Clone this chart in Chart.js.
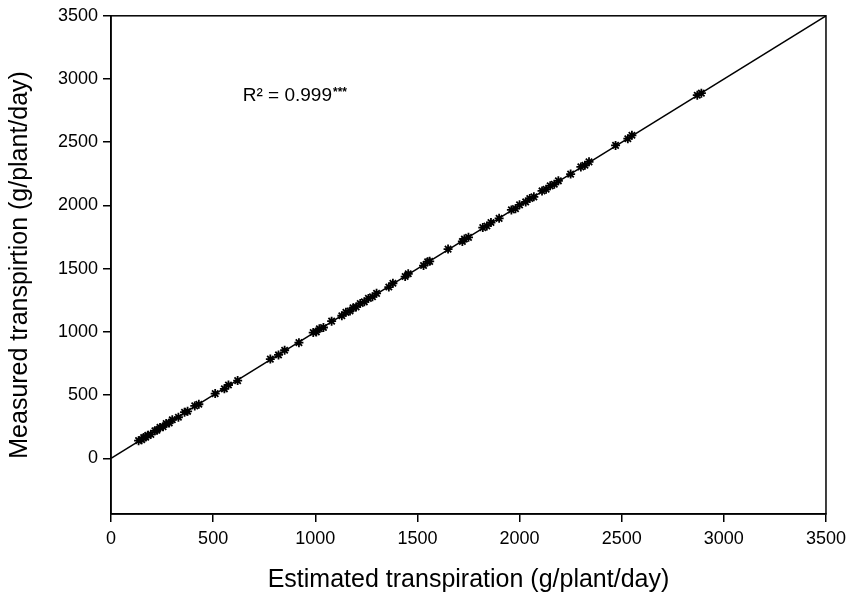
<!DOCTYPE html>
<html>
<head>
<meta charset="utf-8">
<script src="https://cdn.jsdelivr.net/npm/chart.js@4"></script>
<style>
  html, body { margin: 0; padding: 0; background: #fff; }
  #wrap { width: 852px; height: 602px; }
</style>
</head>
<body>
<div id="wrap"><canvas id="chart" width="852" height="602"></canvas></div>
<script>
// estimated vs measured transpiration (g/plant/day)
const estimated = [135, 150, 160, 170, 180, 195, 215, 225, 240, 255, 270, 285, 300, 330, 360, 375, 410, 430,
  510, 555, 575, 620, 780, 820, 850, 920, 990, 1005, 1020, 1040, 1080, 1130, 1150, 1170, 1185, 1200, 1220,
  1240, 1260, 1280, 1300, 1360, 1380, 1440, 1455, 1530, 1550, 1560, 1650, 1720, 1730, 1750, 1820, 1840,
  1860, 1900, 1960, 1980, 2000, 2030, 2050, 2070, 2110, 2130, 2150, 2170, 2190, 2250, 2300, 2320, 2340,
  2470, 2530, 2550, 2870, 2890];
const measured = [140, 148, 165, 168, 182, 190, 218, 222, 245, 250, 275, 280, 305, 325, 365, 372, 415, 428,
  512, 550, 580, 615, 785, 818, 855, 915, 995, 1000, 1025, 1035, 1085, 1128, 1155, 1165, 1190, 1198, 1225,
  1238, 1265, 1278, 1305, 1355, 1385, 1438, 1460, 1525, 1555, 1558, 1655, 1715, 1735, 1748, 1825, 1838,
  1865, 1898, 1965, 1975, 2005, 2028, 2055, 2068, 2115, 2128, 2155, 2168, 2195, 2248, 2305, 2318, 2345,
  2475, 2528, 2555, 2872, 2888];
const fitX = [0, 3500];
const fitY = [0, 3500];
const xTicks = [0, 500, 1000, 1500, 2000, 2500, 3000, 3500];
const yTicks = [0, 500, 1000, 1500, 2000, 2500, 3000, 3500];
const r2Label = 'R² = 0.999';
const r2Stars = '***';

const FONT = 'Liberation Sans, Arial, sans-serif';

const frame = {
  id: 'frame',
  afterDraw(chart) {
    const { ctx, chartArea: a } = chart;
    ctx.save();
    ctx.strokeStyle = '#000';
    ctx.lineWidth = 1.5;
    ctx.strokeRect(a.left, a.top, a.right - a.left, a.bottom - a.top);
    // R² note
    const x = chart.scales.x.getPixelForValue(645);
    const y = chart.scales.y.getPixelForValue(2870);
    ctx.fillStyle = '#000';
    ctx.font = '19px ' + FONT;
    ctx.textBaseline = 'middle';
    ctx.fillText(r2Label, x, y);
    const w = ctx.measureText(r2Label).width;
    ctx.font = 'bold 12px ' + FONT;
    ctx.fillText(r2Stars, x + w + 1, y - 3);
    ctx.restore();
  }
};

new Chart(document.getElementById('chart'), {
  type: 'scatter',
  data: {
    datasets: [{
      type: 'line',
      data: fitX.map((v, i) => ({ x: v, y: fitY[i] })),
      borderColor: '#000',
      borderWidth: 1.5,
      pointRadius: 0,
      fill: false
    }, {
      data: estimated.map((v, i) => ({ x: v, y: measured[i] })),
      pointStyle: 'star',
      pointRadius: 4.5,
      borderColor: '#000',
      backgroundColor: '#000',
      borderWidth: 1.8
    }]
  },
  options: {
    responsive: false,
    animation: false,
    layout: { padding: { left: 0, right: 26, top: 15, bottom: 0 } },
    plugins: { legend: { display: false }, tooltip: { enabled: false } },
    scales: {
      x: {
        type: 'linear',
        min: 0,
        max: 3500,
        afterFit(s) { s.height = 88; },
        afterBuildTicks(s) { s.ticks = xTicks.map(v => ({ value: v })); },
        grid: { drawOnChartArea: false, tickLength: 8, color: '#000', lineWidth: 1.5 },
        border: { color: '#000', width: 1.5 },
        ticks: { color: '#000', font: { family: FONT, size: 18 }, padding: 6, maxRotation: 0,
          callback: v => String(v) },
        title: { display: true, text: 'Estimated transpiration (g/plant/day)', color: '#000',
          font: { family: FONT, size: 25 }, padding: { top: 4, bottom: 7 } }
      },
      y: {
        type: 'linear',
        min: -440,
        max: 3500,
        afterFit(s) { s.width = 111; },
        afterBuildTicks(s) { s.ticks = yTicks.map(v => ({ value: v })); },
        grid: { drawOnChartArea: false, tickLength: 8, color: '#000', lineWidth: 1.5 },
        border: { color: '#000', width: 1.5 },
        ticks: { color: '#000', font: { family: FONT, size: 18 }, padding: 5,
          callback: v => String(v) },
        title: { display: true, text: 'Measured transpirtion (g/plant/day)', color: '#000',
          font: { family: FONT, size: 25 }, padding: { top: 5, bottom: 4 } }
      }
    }
  },
  plugins: [frame]
});
</script>
</body>
</html>
